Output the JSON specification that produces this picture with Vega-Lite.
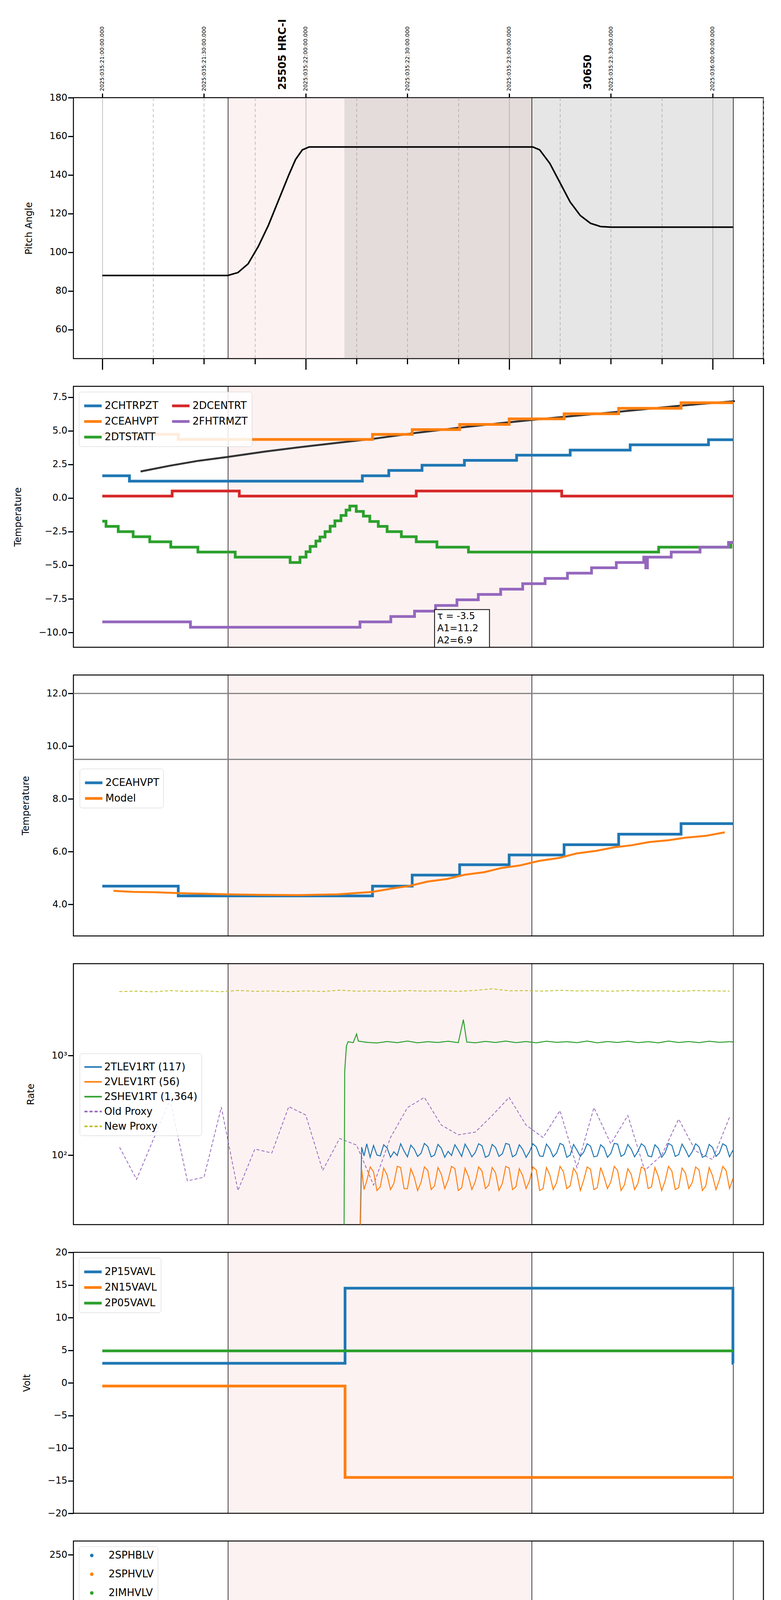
{
"$schema":"https://vega.github.io/schema/vega-lite/v6.json",
"padding":{"left":33,"top":47,"right":5,"bottom":5},
"background":"white",
"config":{"font":"DejaVu Sans","view":{"stroke":"black","strokeWidth":2.5},
"axis":{"labelFont":"DejaVu Sans","labelFontSize":24,"labelColor":"black","titleFont":"DejaVu Sans","titleFontSize":24,"titleFontWeight":"normal","titleColor":"black","tickColor":"black","tickWidth":3,"tickSize":14,"domain":false,"titlePadding":40},
"axisY":{"grid":false},
"legend":{"labelFont":"DejaVu Sans","labelFontSize":26,"labelColor":"black","labelLimit":0,"title":null,"strokeColor":"#d0d0d0","fillColor":"rgba(255,255,255,0.85)","padding":10,"cornerRadius":6,"symbolType":"stroke","symbolStrokeWidth":7,"symbolSize":2000,"rowPadding":0,"columnPadding":20,"offset":14,"orient":"top-left"}},
"bounds":"flush",
"spacing":71,
"resolve":{"scale":{"color":"independent","strokeDash":"independent"},"legend":{"color":"independent","strokeDash":"independent"}},
"datasets":{
"shade":[{"a":37.1,"b":126.7}],
"vlines":[{"t":37.1},{"t":126.7},{"t":186.1}]
},
"vconcat":[
{"width":1767,"height":668,
"resolve":{"axis":{"x":"independent"}},
"layer":[
{"data":{"name":"shade"},"mark":{"type":"rect","color":"#f08080","opacity":0.1},"encoding":{"x":{"field":"a","type":"quantitative","scale":{"domain":[-8.52,195],"nice":false,"zero":false},"axis":{"values":[0,15,30,45,60,75,90,105,120,135,150,165,180,195],"labels":false,"title":null,"grid":true,"gridColor":"#b0b0b0","gridWidth":1.5,"gridDash":{"condition":{"test":"datum.value % 60 == 0","value":[]},"value":[8,6]},"tickSize":{"condition":{"test":"datum.value % 60 == 0","value":28},"value":14}}},"x2":{"field":"b"},"y":{"datum":45,"type":"quantitative"},"y2":{"datum":180}}},
{"data":{"values":[{"a":71.4,"b":186.1}]},"mark":{"type":"rect","color":"#808080","opacity":0.2},"encoding":{"x":{"field":"a","type":"quantitative","axis":null},"x2":{"field":"b"},"y":{"datum":45,"type":"quantitative"},"y2":{"datum":180}}},
{"data":{"name":"vlines"},"mark":{"type":"rule","color":"black","strokeWidth":1.5},"encoding":{"x":{"field":"t","type":"quantitative","axis":null},"y":{"datum":45,"type":"quantitative"},"y2":{"datum":180}}},
{"data":{"values":[{"t":0}]},"mark":{"type":"point","opacity":0},"encoding":{"y":{"datum":100,"type":"quantitative"},"x":{"field":"t","type":"quantitative","axis":{"orient":"top","values":[0,30,60,90,120,150,180],"grid":false,"title":null,"tickSize":11,"labelAngle":270,"labelAlign":"left","labelBaseline":"middle","labelFontSize":14,"labelPadding":6,"labelExpr":"datum.value == 180 ? '2025:036:00:00:00.000' : '2025:035:' + (21 + floor(datum.value/60)) + ':' + (datum.value % 60 == 0 ? '00' : '30') + ':00.000'"}}}},
{"data":{"values":[{"t":53.2,"label":"25505 HRC-I"},{"t":143.3,"label":"30650"}]},"mark":{"type":"text","angle":270,"align":"left","baseline":"middle","dx":20,"fontSize":26,"fontWeight":"bold","color":"black"},"encoding":{"x":{"field":"t","type":"quantitative","axis":null},"y":{"datum":180,"type":"quantitative"},"text":{"field":"label"}}},
{"data":{"values":[{"t":0,"v":88},{"t":37,"v":88},{"t":40,"v":89.5},{"t":43,"v":94},{"t":46,"v":103},{"t":49,"v":114},{"t":52,"v":127},{"t":55,"v":140},{"t":57,"v":148},{"t":59,"v":153},{"t":61,"v":154.5},{"t":127,"v":154.5},{"t":129,"v":153},{"t":132,"v":146},{"t":135,"v":136},{"t":138,"v":126},{"t":141,"v":119},{"t":144,"v":115},{"t":147,"v":113.3},{"t":150,"v":113},{"t":186.1,"v":113}]},
"mark":{"type":"line","color":"black","strokeWidth":4},
"encoding":{"x":{"field":"t","type":"quantitative","axis":null},"y":{"field":"v","type":"quantitative","scale":{"domain":[45,180],"nice":false,"zero":false},"axis":{"values":[60,80,100,120,140,160,180],"title":"Pitch Angle"}}}}
]},
{"width":1767,"height":668,
"layer":[
{"data":{"name":"shade"},"mark":{"type":"rect","color":"#f08080","opacity":0.1},"encoding":{"x":{"field":"a","type":"quantitative","scale":{"domain":[-8.52,195],"nice":false,"zero":false},"axis":{"values":[0,15,30,45,60,75,90,105,120,135,150,165,180,195],"labels":false,"title":null,"grid":true,"gridColor":"#b0b0b0","gridWidth":1.5,"gridDash":{"condition":{"test":"datum.value % 60 == 0","value":[]},"value":[8,6]},"tickSize":{"condition":{"test":"datum.value % 60 == 0","value":28},"value":14}}},"x2":{"field":"b"},"y":{"datum":-11.1,"type":"quantitative"},"y2":{"datum":8.3}}},
{"data":{"name":"vlines"},"mark":{"type":"rule","color":"black","strokeWidth":1.5},"encoding":{"x":{"field":"t","type":"quantitative","axis":null},"y":{"datum":-11.1,"type":"quantitative"},"y2":{"datum":8.3}}},
{"data":{"values":[{"t":11.3,"v":1.97},{"t":20,"v":2.4},{"t":28,"v":2.75},{"t":37,"v":3.05},{"t":48,"v":3.45},{"t":60,"v":3.83},{"t":70,"v":4.12},{"t":79.7,"v":4.39},{"t":92,"v":4.82},{"t":105.4,"v":5.23},{"t":116,"v":5.52},{"t":126.7,"v":5.8},{"t":140,"v":6.12},{"t":153,"v":6.43},{"t":170,"v":6.85},{"t":186.6,"v":7.2}]},
"mark":{"type":"line","color":"#333333","strokeWidth":5},"encoding":{"x":{"field":"t","type":"quantitative","axis":null},"y":{"field":"v","type":"quantitative"}}},
{"data":{"values":[
{"s":"2CHTRPZT","t":0,"v":1.65},{"s":"2CHTRPZT","t":8,"v":1.25},{"s":"2CHTRPZT","t":76.7,"v":1.65},{"s":"2CHTRPZT","t":84.5,"v":2.05},{"s":"2CHTRPZT","t":94.3,"v":2.43},{"s":"2CHTRPZT","t":106.8,"v":2.8},{"s":"2CHTRPZT","t":122.2,"v":3.18},{"s":"2CHTRPZT","t":138,"v":3.56},{"s":"2CHTRPZT","t":155.7,"v":3.95},{"s":"2CHTRPZT","t":178.8,"v":4.33},{"s":"2CHTRPZT","t":186.1,"v":4.33},
{"s":"2CEAHVPT","t":0,"v":4.73},{"s":"2CEAHVPT","t":22.4,"v":4.35},{"s":"2CEAHVPT","t":79.7,"v":4.73},{"s":"2CEAHVPT","t":91.4,"v":5.08},{"s":"2CEAHVPT","t":105.4,"v":5.47},{"s":"2CEAHVPT","t":120,"v":5.88},{"s":"2CEAHVPT","t":136.2,"v":6.26},{"s":"2CEAHVPT","t":152.3,"v":6.67},{"s":"2CEAHVPT","t":170.7,"v":7.08},{"s":"2CEAHVPT","t":186.1,"v":7.08},
{"s":"2DCENTRT","t":0,"v":0.14},{"s":"2DCENTRT","t":20.6,"v":0.52},{"s":"2DCENTRT","t":40.4,"v":0.14},{"s":"2DCENTRT","t":92.6,"v":0.52},{"s":"2DCENTRT","t":135.5,"v":0.14},{"s":"2DCENTRT","t":186.1,"v":0.14},
{"s":"2DTSTATT","t":0,"v":-1.73},{"s":"2DTSTATT","t":1.1,"v":-2.11},{"s":"2DTSTATT","t":4.7,"v":-2.5},{"s":"2DTSTATT","t":9.1,"v":-2.88},{"s":"2DTSTATT","t":14,"v":-3.26},{"s":"2DTSTATT","t":20.2,"v":-3.66},{"s":"2DTSTATT","t":28.2,"v":-4.02},{"s":"2DTSTATT","t":39.2,"v":-4.4},{"s":"2DTSTATT","t":55.4,"v":-4.8},{"s":"2DTSTATT","t":58.3,"v":-4.4},{"s":"2DTSTATT","t":60.1,"v":-4.0},{"s":"2DTSTATT","t":61.3,"v":-3.6},{"s":"2DTSTATT","t":63,"v":-3.2},{"s":"2DTSTATT","t":64.2,"v":-2.9},{"s":"2DTSTATT","t":65.7,"v":-2.5},{"s":"2DTSTATT","t":67.2,"v":-2.1},{"s":"2DTSTATT","t":68.6,"v":-1.7},{"s":"2DTSTATT","t":70.4,"v":-1.3},{"s":"2DTSTATT","t":71.9,"v":-0.9},{"s":"2DTSTATT","t":73,"v":-0.6},{"s":"2DTSTATT","t":74.9,"v":-1.0},{"s":"2DTSTATT","t":77,"v":-1.35},{"s":"2DTSTATT","t":78.9,"v":-1.75},{"s":"2DTSTATT","t":81.4,"v":-2.11},{"s":"2DTSTATT","t":84,"v":-2.5},{"s":"2DTSTATT","t":88.2,"v":-2.88},{"s":"2DTSTATT","t":92.6,"v":-3.26},{"s":"2DTSTATT","t":98.7,"v":-3.66},{"s":"2DTSTATT","t":108,"v":-4.02},{"s":"2DTSTATT","t":164.1,"v":-3.66},{"s":"2DTSTATT","t":185.4,"v":-3.3},{"s":"2DTSTATT","t":186.1,"v":-3.3},
{"s":"2FHTRMZT","t":0,"v":-9.21},{"s":"2FHTRMZT","t":26,"v":-9.61},{"s":"2FHTRMZT","t":76,"v":-9.21},{"s":"2FHTRMZT","t":85.1,"v":-8.81},{"s":"2FHTRMZT","t":92.1,"v":-8.41},{"s":"2FHTRMZT","t":98.3,"v":-7.99},{"s":"2FHTRMZT","t":104.6,"v":-7.57},{"s":"2FHTRMZT","t":110.9,"v":-7.17},{"s":"2FHTRMZT","t":117.5,"v":-6.78},{"s":"2FHTRMZT","t":124,"v":-6.37},{"s":"2FHTRMZT","t":130.6,"v":-5.98},{"s":"2FHTRMZT","t":137.2,"v":-5.59},{"s":"2FHTRMZT","t":144.3,"v":-5.19},{"s":"2FHTRMZT","t":151.6,"v":-4.8},{"s":"2FHTRMZT","t":159.7,"v":-4.4},{"s":"2FHTRMZT","t":160.3,"v":-5.2},{"s":"2FHTRMZT","t":160.8,"v":-4.4},{"s":"2FHTRMZT","t":167.8,"v":-4.02},{"s":"2FHTRMZT","t":176.3,"v":-3.66},{"s":"2FHTRMZT","t":184.7,"v":-3.3},{"s":"2FHTRMZT","t":186.1,"v":-3.3}
]},
"mark":{"type":"line","interpolate":"step-after","strokeWidth":7},
"encoding":{"x":{"field":"t","type":"quantitative","axis":null},"y":{"field":"v","type":"quantitative","scale":{"domain":[-11.1,8.3],"nice":false,"zero":false},"axis":{"values":[-10,-7.5,-5,-2.5,0,2.5,5,7.5],"format":".1f","title":"Temperature"}},
"color":{"field":"s","type":"nominal","scale":{"domain":["2CHTRPZT","2CEAHVPT","2DTSTATT","2DCENTRT","2FHTRMZT"],"range":["#1f77b4","#ff7f0e","#2ca02c","#d62728","#9467bd"]},"legend":{"columns":2}}}},
{"data":{"values":[{"a":98,"b":114.2,"y1":-8.3,"y2":-11.1}]},"mark":{"type":"rect","fill":"white","stroke":"black","strokeWidth":2},"encoding":{"x":{"field":"a","type":"quantitative","axis":null},"x2":{"field":"b"},"y":{"field":"y1","type":"quantitative"},"y2":{"field":"y2"}}},
{"data":{"values":[{"t":98.8,"v":-8.45,"label":["τ = -3.5","A1=11.2","A2=6.9"]}]},"mark":{"type":"text","align":"left","baseline":"top","fontSize":24,"lineHeight":31,"color":"black"},"encoding":{"x":{"field":"t","type":"quantitative","axis":null},"y":{"field":"v","type":"quantitative"},"text":{"field":"label"}}}
]},
{"width":1767,"height":668,
"layer":[
{"data":{"name":"shade"},"mark":{"type":"rect","color":"#f08080","opacity":0.1},"encoding":{"x":{"field":"a","type":"quantitative","scale":{"domain":[-8.52,195],"nice":false,"zero":false},"axis":{"values":[0,15,30,45,60,75,90,105,120,135,150,165,180,195],"labels":false,"title":null,"grid":true,"gridColor":"#b0b0b0","gridWidth":1.5,"gridDash":{"condition":{"test":"datum.value % 60 == 0","value":[]},"value":[8,6]},"tickSize":{"condition":{"test":"datum.value % 60 == 0","value":28},"value":14}}},"x2":{"field":"b"},"y":{"datum":2.8,"type":"quantitative"},"y2":{"datum":12.7}}},
{"data":{"name":"vlines"},"mark":{"type":"rule","color":"black","strokeWidth":1.5},"encoding":{"x":{"field":"t","type":"quantitative","axis":null},"y":{"datum":2.8,"type":"quantitative"},"y2":{"datum":12.7}}},
{"data":{"values":[{"v":12},{"v":9.5}]},"mark":{"type":"rule","color":"#808080","strokeWidth":3},"encoding":{"y":{"field":"v","type":"quantitative"},"x":{"datum":-8.52,"type":"quantitative"},"x2":{"datum":195}}},
{"data":{"values":[
{"s":"2CEAHVPT","t":0,"v":4.69},{"s":"2CEAHVPT","t":22.4,"v":4.32},{"s":"2CEAHVPT","t":79.7,"v":4.69},{"s":"2CEAHVPT","t":91.4,"v":5.11},{"s":"2CEAHVPT","t":105.4,"v":5.5},{"s":"2CEAHVPT","t":120,"v":5.87},{"s":"2CEAHVPT","t":136.2,"v":6.26},{"s":"2CEAHVPT","t":152.3,"v":6.66},{"s":"2CEAHVPT","t":170.7,"v":7.06},{"s":"2CEAHVPT","t":186.1,"v":7.06}
]},
"mark":{"type":"line","interpolate":"step-after","strokeWidth":7},
"encoding":{"x":{"field":"t","type":"quantitative","axis":null},"y":{"field":"v","type":"quantitative","scale":{"domain":[2.8,12.7],"nice":false,"zero":false},"axis":{"values":[4,6,8,10,12],"title":"Temperature"}},
"color":{"field":"s","type":"nominal","scale":{"domain":["2CEAHVPT","Model"],"range":["#1f77b4","#ff7f0e"]},"legend":{"orient":"none","legendX":16,"legendY":240}}}},
{"data":{"values":[
{"s":"Model","t":3.3,"v":4.51},{"s":"Model","t":9.1,"v":4.47},{"s":"Model","t":15,"v":4.46},{"s":"Model","t":23.8,"v":4.42},{"s":"Model","t":37,"v":4.38},{"s":"Model","t":45.9,"v":4.36},{"s":"Model","t":57.6,"v":4.35},{"s":"Model","t":69.4,"v":4.38},{"s":"Model","t":79.7,"v":4.47},{"s":"Model","t":85.5,"v":4.6},{"s":"Model","t":90.7,"v":4.7},{"s":"Model","t":95.8,"v":4.86},{"s":"Model","t":101.7,"v":4.96},{"s":"Model","t":106.8,"v":5.12},{"s":"Model","t":112.7,"v":5.22},{"s":"Model","t":117.8,"v":5.38},{"s":"Model","t":123,"v":5.47},{"s":"Model","t":128.9,"v":5.65},{"s":"Model","t":134.8,"v":5.76},{"s":"Model","t":139.9,"v":5.93},{"s":"Model","t":145.8,"v":6.03},{"s":"Model","t":150.9,"v":6.16},{"s":"Model","t":156.1,"v":6.24},{"s":"Model","t":161.2,"v":6.36},{"s":"Model","t":167,"v":6.43},{"s":"Model","t":172.2,"v":6.53},{"s":"Model","t":178.1,"v":6.6},{"s":"Model","t":183.6,"v":6.73}
]},
"mark":{"type":"line","strokeWidth":5},
"encoding":{"x":{"field":"t","type":"quantitative","axis":null},"y":{"field":"v","type":"quantitative"},"color":{"field":"s","type":"nominal"}}}
]},
{"width":1767,"height":668,
"layer":[
{"data":{"name":"shade"},"mark":{"type":"rect","color":"#f08080","opacity":0.1},"encoding":{"x":{"field":"a","type":"quantitative","scale":{"domain":[-8.52,195],"nice":false,"zero":false},"axis":{"values":[0,15,30,45,60,75,90,105,120,135,150,165,180,195],"labels":false,"title":null,"grid":true,"gridColor":"#b0b0b0","gridWidth":1.5,"gridDash":{"condition":{"test":"datum.value % 60 == 0","value":[]},"value":[8,6]},"tickSize":{"condition":{"test":"datum.value % 60 == 0","value":28},"value":14}}},"x2":{"field":"b"},"y":{"datum":20,"type":"quantitative"},"y2":{"datum":8400}}},
{"data":{"name":"vlines"},"mark":{"type":"rule","color":"black","strokeWidth":1.5},"encoding":{"x":{"field":"t","type":"quantitative","axis":null},"y":{"datum":20,"type":"quantitative"},"y2":{"datum":8400}}},
{"data":{"values":[
{"s":"Old Proxy","t":5.1,"v":120},{"s":"Old Proxy","t":10.1,"v":57},{"s":"Old Proxy","t":20,"v":361},{"s":"Old Proxy","t":25.1,"v":55},{"s":"Old Proxy","t":30,"v":60},{"s":"Old Proxy","t":35.1,"v":303},{"s":"Old Proxy","t":40,"v":44},{"s":"Old Proxy","t":45,"v":115},{"s":"Old Proxy","t":50,"v":105},{"s":"Old Proxy","t":55,"v":307},{"s":"Old Proxy","t":60,"v":253},{"s":"Old Proxy","t":65,"v":70},{"s":"Old Proxy","t":70,"v":147},{"s":"Old Proxy","t":75,"v":126},{"s":"Old Proxy","t":80,"v":50},{"s":"Old Proxy","t":85,"v":150},{"s":"Old Proxy","t":90,"v":300},{"s":"Old Proxy","t":95,"v":380},{"s":"Old Proxy","t":100,"v":200},{"s":"Old Proxy","t":105,"v":160},{"s":"Old Proxy","t":110,"v":170},{"s":"Old Proxy","t":115,"v":250},{"s":"Old Proxy","t":120,"v":380},{"s":"Old Proxy","t":125,"v":200},{"s":"Old Proxy","t":130,"v":150},{"s":"Old Proxy","t":135,"v":280},{"s":"Old Proxy","t":140,"v":75},{"s":"Old Proxy","t":145,"v":300},{"s":"Old Proxy","t":150,"v":130},{"s":"Old Proxy","t":155,"v":250},{"s":"Old Proxy","t":160,"v":70},{"s":"Old Proxy","t":165,"v":100},{"s":"Old Proxy","t":170,"v":230},{"s":"Old Proxy","t":175,"v":110},{"s":"Old Proxy","t":180,"v":90},{"s":"Old Proxy","t":185,"v":240},
{"s":"New Proxy","t":5,"v":4400},{"s":"New Proxy","t":10,"v":4450},{"s":"New Proxy","t":15,"v":4380},{"s":"New Proxy","t":20,"v":4500},{"s":"New Proxy","t":25,"v":4420},{"s":"New Proxy","t":30,"v":4470},{"s":"New Proxy","t":35,"v":4390},{"s":"New Proxy","t":40,"v":4520},{"s":"New Proxy","t":45,"v":4430},{"s":"New Proxy","t":50,"v":4460},{"s":"New Proxy","t":55,"v":4400},{"s":"New Proxy","t":60,"v":4480},{"s":"New Proxy","t":65,"v":4410},{"s":"New Proxy","t":70,"v":4550},{"s":"New Proxy","t":75,"v":4440},{"s":"New Proxy","t":80,"v":4470},{"s":"New Proxy","t":85,"v":4420},{"s":"New Proxy","t":90,"v":4500},{"s":"New Proxy","t":95,"v":4450},{"s":"New Proxy","t":100,"v":4480},{"s":"New Proxy","t":105,"v":4430},{"s":"New Proxy","t":110,"v":4520},{"s":"New Proxy","t":115,"v":4700},{"s":"New Proxy","t":120,"v":4480},{"s":"New Proxy","t":125,"v":4500},{"s":"New Proxy","t":130,"v":4450},{"s":"New Proxy","t":135,"v":4530},{"s":"New Proxy","t":140,"v":4470},{"s":"New Proxy","t":145,"v":4490},{"s":"New Proxy","t":150,"v":4440},{"s":"New Proxy","t":155,"v":4510},{"s":"New Proxy","t":160,"v":4460},{"s":"New Proxy","t":165,"v":4480},{"s":"New Proxy","t":170,"v":4430},{"s":"New Proxy","t":175,"v":4500},{"s":"New Proxy","t":180,"v":4470},{"s":"New Proxy","t":185,"v":4450}
]},
"mark":{"type":"line","strokeWidth":2},
"encoding":{"x":{"field":"t","type":"quantitative","axis":null},"y":{"field":"v","type":"quantitative"},"color":{"field":"s","type":"nominal"},"strokeDash":{"field":"s","type":"nominal"}}},
{"data":{"values":[
{"s":"2SHEV1RT (1,364)","t":71.3,"v":15},{"s":"2SHEV1RT (1,364)","t":71.5,"v":700},{"s":"2SHEV1RT (1,364)","t":72,"v":1250},{"s":"2SHEV1RT (1,364)","t":72.5,"v":1380},{"s":"2SHEV1RT (1,364)","t":74,"v":1350},{"s":"2SHEV1RT (1,364)","t":75,"v":1650},{"s":"2SHEV1RT (1,364)","t":75.5,"v":1400},{"s":"2SHEV1RT (1,364)","t":78,"v":1360},{"s":"2SHEV1RT (1,364)","t":81,"v":1340},{"s":"2SHEV1RT (1,364)","t":84,"v":1385},{"s":"2SHEV1RT (1,364)","t":87,"v":1350},{"s":"2SHEV1RT (1,364)","t":90,"v":1400},{"s":"2SHEV1RT (1,364)","t":93,"v":1345},{"s":"2SHEV1RT (1,364)","t":96,"v":1380},{"s":"2SHEV1RT (1,364)","t":99,"v":1355},{"s":"2SHEV1RT (1,364)","t":102,"v":1395},{"s":"2SHEV1RT (1,364)","t":105,"v":1350},{"s":"2SHEV1RT (1,364)","t":106.5,"v":2300},{"s":"2SHEV1RT (1,364)","t":107.5,"v":1370},{"s":"2SHEV1RT (1,364)","t":110,"v":1345},{"s":"2SHEV1RT (1,364)","t":113,"v":1390},{"s":"2SHEV1RT (1,364)","t":116,"v":1355},{"s":"2SHEV1RT (1,364)","t":119,"v":1400},{"s":"2SHEV1RT (1,364)","t":122,"v":1350},{"s":"2SHEV1RT (1,364)","t":125,"v":1385},{"s":"2SHEV1RT (1,364)","t":128,"v":1345},{"s":"2SHEV1RT (1,364)","t":131,"v":1395},{"s":"2SHEV1RT (1,364)","t":134,"v":1360},{"s":"2SHEV1RT (1,364)","t":137,"v":1380},{"s":"2SHEV1RT (1,364)","t":140,"v":1350},{"s":"2SHEV1RT (1,364)","t":143,"v":1400},{"s":"2SHEV1RT (1,364)","t":146,"v":1345},{"s":"2SHEV1RT (1,364)","t":149,"v":1385},{"s":"2SHEV1RT (1,364)","t":152,"v":1355},{"s":"2SHEV1RT (1,364)","t":155,"v":1395},{"s":"2SHEV1RT (1,364)","t":158,"v":1350},{"s":"2SHEV1RT (1,364)","t":161,"v":1380},{"s":"2SHEV1RT (1,364)","t":164,"v":1345},{"s":"2SHEV1RT (1,364)","t":167,"v":1400},{"s":"2SHEV1RT (1,364)","t":170,"v":1355},{"s":"2SHEV1RT (1,364)","t":173,"v":1385},{"s":"2SHEV1RT (1,364)","t":176,"v":1350},{"s":"2SHEV1RT (1,364)","t":179,"v":1395},{"s":"2SHEV1RT (1,364)","t":182,"v":1360},{"s":"2SHEV1RT (1,364)","t":185,"v":1380},{"s":"2SHEV1RT (1,364)","t":186,"v":1370},
{"s":"2TLEV1RT (117)","t":76,"v":15},{"s":"2TLEV1RT (117)","t":76.5,"v":120},{"s":"2TLEV1RT (117)","t":77.2,"v":98},{"s":"2TLEV1RT (117)","t":78,"v":130},{"s":"2TLEV1RT (117)","t":79,"v":95},{"s":"2TLEV1RT (117)","t":80,"v":125},{"s":"2TLEV1RT (117)","t":81,"v":100},{"s":"2TLEV1RT (117)","t":82,"v":98},{"s":"2TLEV1RT (117)","t":83,"v":127},{"s":"2TLEV1RT (117)","t":84,"v":118},{"s":"2TLEV1RT (117)","t":85,"v":95},{"s":"2TLEV1RT (117)","t":86,"v":108},{"s":"2TLEV1RT (117)","t":87,"v":99},{"s":"2TLEV1RT (117)","t":88,"v":130},{"s":"2TLEV1RT (117)","t":89,"v":110},{"s":"2TLEV1RT (117)","t":90,"v":96},{"s":"2TLEV1RT (117)","t":91,"v":126},{"s":"2TLEV1RT (117)","t":92,"v":115},{"s":"2TLEV1RT (117)","t":93,"v":97},{"s":"2TLEV1RT (117)","t":94,"v":104},{"s":"2TLEV1RT (117)","t":95,"v":131},{"s":"2TLEV1RT (117)","t":96,"v":122},{"s":"2TLEV1RT (117)","t":97,"v":96},{"s":"2TLEV1RT (117)","t":98,"v":100},{"s":"2TLEV1RT (117)","t":99,"v":128},{"s":"2TLEV1RT (117)","t":100,"v":117},{"s":"2TLEV1RT (117)","t":101,"v":95},{"s":"2TLEV1RT (117)","t":102,"v":109},{"s":"2TLEV1RT (117)","t":103,"v":99},{"s":"2TLEV1RT (117)","t":104,"v":127},{"s":"2TLEV1RT (117)","t":105,"v":112},{"s":"2TLEV1RT (117)","t":106,"v":97},{"s":"2TLEV1RT (117)","t":107,"v":129},{"s":"2TLEV1RT (117)","t":108,"v":113},{"s":"2TLEV1RT (117)","t":109,"v":96},{"s":"2TLEV1RT (117)","t":110,"v":106},{"s":"2TLEV1RT (117)","t":111,"v":130},{"s":"2TLEV1RT (117)","t":112,"v":124},{"s":"2TLEV1RT (117)","t":113,"v":95},{"s":"2TLEV1RT (117)","t":114,"v":99},{"s":"2TLEV1RT (117)","t":115,"v":128},{"s":"2TLEV1RT (117)","t":116,"v":119},{"s":"2TLEV1RT (117)","t":117,"v":97},{"s":"2TLEV1RT (117)","t":118,"v":103},{"s":"2TLEV1RT (117)","t":119,"v":131},{"s":"2TLEV1RT (117)","t":120,"v":128},{"s":"2TLEV1RT (117)","t":121,"v":96},{"s":"2TLEV1RT (117)","t":122,"v":101},{"s":"2TLEV1RT (117)","t":123,"v":127},{"s":"2TLEV1RT (117)","t":124,"v":114},{"s":"2TLEV1RT (117)","t":125,"v":95},{"s":"2TLEV1RT (117)","t":126,"v":108},{"s":"2TLEV1RT (117)","t":127,"v":130},{"s":"2TLEV1RT (117)","t":128,"v":121},{"s":"2TLEV1RT (117)","t":129,"v":98},{"s":"2TLEV1RT (117)","t":130,"v":97},{"s":"2TLEV1RT (117)","t":131,"v":129},{"s":"2TLEV1RT (117)","t":132,"v":116},{"s":"2TLEV1RT (117)","t":133,"v":96},{"s":"2TLEV1RT (117)","t":134,"v":105},{"s":"2TLEV1RT (117)","t":135,"v":131},{"s":"2TLEV1RT (117)","t":136,"v":126},{"s":"2TLEV1RT (117)","t":137,"v":95},{"s":"2TLEV1RT (117)","t":138,"v":100},{"s":"2TLEV1RT (117)","t":139,"v":128},{"s":"2TLEV1RT (117)","t":140,"v":112},{"s":"2TLEV1RT (117)","t":141,"v":97},{"s":"2TLEV1RT (117)","t":142,"v":107},{"s":"2TLEV1RT (117)","t":143,"v":130},{"s":"2TLEV1RT (117)","t":144,"v":123},{"s":"2TLEV1RT (117)","t":145,"v":96},{"s":"2TLEV1RT (117)","t":146,"v":98},{"s":"2TLEV1RT (117)","t":147,"v":127},{"s":"2TLEV1RT (117)","t":148,"v":118},{"s":"2TLEV1RT (117)","t":149,"v":95},{"s":"2TLEV1RT (117)","t":150,"v":104},{"s":"2TLEV1RT (117)","t":151,"v":131},{"s":"2TLEV1RT (117)","t":152,"v":129},{"s":"2TLEV1RT (117)","t":153,"v":97},{"s":"2TLEV1RT (117)","t":154,"v":102},{"s":"2TLEV1RT (117)","t":155,"v":128},{"s":"2TLEV1RT (117)","t":156,"v":115},{"s":"2TLEV1RT (117)","t":157,"v":96},{"s":"2TLEV1RT (117)","t":158,"v":109},{"s":"2TLEV1RT (117)","t":159,"v":130},{"s":"2TLEV1RT (117)","t":160,"v":122},{"s":"2TLEV1RT (117)","t":161,"v":98},{"s":"2TLEV1RT (117)","t":162,"v":96},{"s":"2TLEV1RT (117)","t":163,"v":127},{"s":"2TLEV1RT (117)","t":164,"v":117},{"s":"2TLEV1RT (117)","t":165,"v":95},{"s":"2TLEV1RT (117)","t":166,"v":106},{"s":"2TLEV1RT (117)","t":167,"v":131},{"s":"2TLEV1RT (117)","t":168,"v":125},{"s":"2TLEV1RT (117)","t":169,"v":97},{"s":"2TLEV1RT (117)","t":170,"v":101},{"s":"2TLEV1RT (117)","t":171,"v":129},{"s":"2TLEV1RT (117)","t":172,"v":113},{"s":"2TLEV1RT (117)","t":173,"v":96},{"s":"2TLEV1RT (117)","t":174,"v":108},{"s":"2TLEV1RT (117)","t":175,"v":130},{"s":"2TLEV1RT (117)","t":176,"v":121},{"s":"2TLEV1RT (117)","t":177,"v":95},{"s":"2TLEV1RT (117)","t":178,"v":99},{"s":"2TLEV1RT (117)","t":179,"v":128},{"s":"2TLEV1RT (117)","t":180,"v":119},{"s":"2TLEV1RT (117)","t":181,"v":97},{"s":"2TLEV1RT (117)","t":182,"v":105},{"s":"2TLEV1RT (117)","t":183,"v":130},{"s":"2TLEV1RT (117)","t":184,"v":124},{"s":"2TLEV1RT (117)","t":185,"v":96},{"s":"2TLEV1RT (117)","t":186,"v":112},
{"s":"2VLEV1RT (56)","t":76,"v":12},{"s":"2VLEV1RT (56)","t":76.5,"v":72},{"s":"2VLEV1RT (56)","t":77.2,"v":45},{"s":"2VLEV1RT (56)","t":78,"v":55},{"s":"2VLEV1RT (56)","t":79,"v":76},{"s":"2VLEV1RT (56)","t":80,"v":68},{"s":"2VLEV1RT (56)","t":81,"v":44},{"s":"2VLEV1RT (56)","t":82,"v":48},{"s":"2VLEV1RT (56)","t":83,"v":74},{"s":"2VLEV1RT (56)","t":84,"v":63},{"s":"2VLEV1RT (56)","t":85,"v":45},{"s":"2VLEV1RT (56)","t":86,"v":52},{"s":"2VLEV1RT (56)","t":87,"v":77},{"s":"2VLEV1RT (56)","t":88,"v":75},{"s":"2VLEV1RT (56)","t":89,"v":46},{"s":"2VLEV1RT (56)","t":90,"v":46},{"s":"2VLEV1RT (56)","t":91,"v":73},{"s":"2VLEV1RT (56)","t":92,"v":60},{"s":"2VLEV1RT (56)","t":93,"v":44},{"s":"2VLEV1RT (56)","t":94,"v":53},{"s":"2VLEV1RT (56)","t":95,"v":76},{"s":"2VLEV1RT (56)","t":96,"v":70},{"s":"2VLEV1RT (56)","t":97,"v":45},{"s":"2VLEV1RT (56)","t":98,"v":49},{"s":"2VLEV1RT (56)","t":99,"v":75},{"s":"2VLEV1RT (56)","t":100,"v":64},{"s":"2VLEV1RT (56)","t":101,"v":46},{"s":"2VLEV1RT (56)","t":102,"v":56},{"s":"2VLEV1RT (56)","t":103,"v":77},{"s":"2VLEV1RT (56)","t":104,"v":73},{"s":"2VLEV1RT (56)","t":105,"v":44},{"s":"2VLEV1RT (56)","t":106,"v":47},{"s":"2VLEV1RT (56)","t":107,"v":74},{"s":"2VLEV1RT (56)","t":108,"v":61},{"s":"2VLEV1RT (56)","t":109,"v":45},{"s":"2VLEV1RT (56)","t":110,"v":54},{"s":"2VLEV1RT (56)","t":111,"v":76},{"s":"2VLEV1RT (56)","t":112,"v":69},{"s":"2VLEV1RT (56)","t":113,"v":46},{"s":"2VLEV1RT (56)","t":114,"v":50},{"s":"2VLEV1RT (56)","t":115,"v":75},{"s":"2VLEV1RT (56)","t":116,"v":66},{"s":"2VLEV1RT (56)","t":117,"v":44},{"s":"2VLEV1RT (56)","t":118,"v":52},{"s":"2VLEV1RT (56)","t":119,"v":77},{"s":"2VLEV1RT (56)","t":120,"v":74},{"s":"2VLEV1RT (56)","t":121,"v":45},{"s":"2VLEV1RT (56)","t":122,"v":48},{"s":"2VLEV1RT (56)","t":123,"v":73},{"s":"2VLEV1RT (56)","t":124,"v":62},{"s":"2VLEV1RT (56)","t":125,"v":46},{"s":"2VLEV1RT (56)","t":126,"v":55},{"s":"2VLEV1RT (56)","t":127,"v":76},{"s":"2VLEV1RT (56)","t":128,"v":71},{"s":"2VLEV1RT (56)","t":129,"v":44},{"s":"2VLEV1RT (56)","t":130,"v":46},{"s":"2VLEV1RT (56)","t":131,"v":75},{"s":"2VLEV1RT (56)","t":132,"v":63},{"s":"2VLEV1RT (56)","t":133,"v":45},{"s":"2VLEV1RT (56)","t":134,"v":53},{"s":"2VLEV1RT (56)","t":135,"v":77},{"s":"2VLEV1RT (56)","t":136,"v":68},{"s":"2VLEV1RT (56)","t":137,"v":46},{"s":"2VLEV1RT (56)","t":138,"v":49},{"s":"2VLEV1RT (56)","t":139,"v":74},{"s":"2VLEV1RT (56)","t":140,"v":65},{"s":"2VLEV1RT (56)","t":141,"v":44},{"s":"2VLEV1RT (56)","t":142,"v":56},{"s":"2VLEV1RT (56)","t":143,"v":76},{"s":"2VLEV1RT (56)","t":144,"v":72},{"s":"2VLEV1RT (56)","t":145,"v":45},{"s":"2VLEV1RT (56)","t":146,"v":47},{"s":"2VLEV1RT (56)","t":147,"v":75},{"s":"2VLEV1RT (56)","t":148,"v":60},{"s":"2VLEV1RT (56)","t":149,"v":46},{"s":"2VLEV1RT (56)","t":150,"v":54},{"s":"2VLEV1RT (56)","t":151,"v":77},{"s":"2VLEV1RT (56)","t":152,"v":70},{"s":"2VLEV1RT (56)","t":153,"v":44},{"s":"2VLEV1RT (56)","t":154,"v":50},{"s":"2VLEV1RT (56)","t":155,"v":73},{"s":"2VLEV1RT (56)","t":156,"v":64},{"s":"2VLEV1RT (56)","t":157,"v":45},{"s":"2VLEV1RT (56)","t":158,"v":52},{"s":"2VLEV1RT (56)","t":159,"v":76},{"s":"2VLEV1RT (56)","t":160,"v":73},{"s":"2VLEV1RT (56)","t":161,"v":46},{"s":"2VLEV1RT (56)","t":162,"v":48},{"s":"2VLEV1RT (56)","t":163,"v":75},{"s":"2VLEV1RT (56)","t":164,"v":61},{"s":"2VLEV1RT (56)","t":165,"v":44},{"s":"2VLEV1RT (56)","t":166,"v":55},{"s":"2VLEV1RT (56)","t":167,"v":77},{"s":"2VLEV1RT (56)","t":168,"v":69},{"s":"2VLEV1RT (56)","t":169,"v":45},{"s":"2VLEV1RT (56)","t":170,"v":47},{"s":"2VLEV1RT (56)","t":171,"v":74},{"s":"2VLEV1RT (56)","t":172,"v":66},{"s":"2VLEV1RT (56)","t":173,"v":46},{"s":"2VLEV1RT (56)","t":174,"v":53},{"s":"2VLEV1RT (56)","t":175,"v":76},{"s":"2VLEV1RT (56)","t":176,"v":71},{"s":"2VLEV1RT (56)","t":177,"v":44},{"s":"2VLEV1RT (56)","t":178,"v":49},{"s":"2VLEV1RT (56)","t":179,"v":75},{"s":"2VLEV1RT (56)","t":180,"v":62},{"s":"2VLEV1RT (56)","t":181,"v":45},{"s":"2VLEV1RT (56)","t":182,"v":56},{"s":"2VLEV1RT (56)","t":183,"v":77},{"s":"2VLEV1RT (56)","t":184,"v":70},{"s":"2VLEV1RT (56)","t":185,"v":46},{"s":"2VLEV1RT (56)","t":186,"v":58}
]},
"mark":{"type":"line","strokeWidth":2.5,"clip":true},
"encoding":{"x":{"field":"t","type":"quantitative","axis":null},"y":{"field":"v","type":"quantitative","scale":{"type":"log","domain":[20,8400],"nice":false},"axis":{"values":[100,1000],"labelExpr":"datum.value == 100 ? '10²' : '10³'","title":"Rate"}},
"color":{"field":"s","type":"nominal","scale":{"domain":["2TLEV1RT (117)","2VLEV1RT (56)","2SHEV1RT (1,364)","Old Proxy","New Proxy"],"range":["#1f77b4","#ff7f0e","#2ca02c","#9467bd","#bcbd22"]},"legend":{"orient":"none","legendX":16,"legendY":230,"symbolStrokeWidth":4}},
"strokeDash":{"field":"s","type":"nominal","scale":{"domain":["2TLEV1RT (117)","2VLEV1RT (56)","2SHEV1RT (1,364)","Old Proxy","New Proxy"],"range":[[1,0],[1,0],[1,0],[8,5],[8,5]]},"legend":{"orient":"none","legendX":16,"legendY":230,"symbolStrokeWidth":4}}}}
]},
{"width":1767,"height":668,
"layer":[
{"data":{"name":"shade"},"mark":{"type":"rect","color":"#f08080","opacity":0.1},"encoding":{"x":{"field":"a","type":"quantitative","scale":{"domain":[-8.52,195],"nice":false,"zero":false},"axis":{"values":[0,15,30,45,60,75,90,105,120,135,150,165,180,195],"labels":false,"title":null,"grid":true,"gridColor":"#b0b0b0","gridWidth":1.5,"gridDash":{"condition":{"test":"datum.value % 60 == 0","value":[]},"value":[8,6]},"tickSize":{"condition":{"test":"datum.value % 60 == 0","value":28},"value":14}}},"x2":{"field":"b"},"y":{"datum":-20,"type":"quantitative"},"y2":{"datum":20}}},
{"data":{"name":"vlines"},"mark":{"type":"rule","color":"black","strokeWidth":1.5},"encoding":{"x":{"field":"t","type":"quantitative","axis":null},"y":{"datum":-20,"type":"quantitative"},"y2":{"datum":20}}},
{"data":{"values":[
{"s":"2P15VAVL","t":0,"v":3},{"s":"2P15VAVL","t":71.6,"v":14.5},{"s":"2P15VAVL","t":186,"v":3},{"s":"2P15VAVL","t":186.1,"v":3},
{"s":"2N15VAVL","t":0,"v":-0.5},{"s":"2N15VAVL","t":71.6,"v":-14.5},{"s":"2N15VAVL","t":186.1,"v":-14.5},
{"s":"2P05VAVL","t":0,"v":4.9},{"s":"2P05VAVL","t":186.1,"v":4.9}
]},
"mark":{"type":"line","interpolate":"step-after","strokeWidth":7},
"encoding":{"x":{"field":"t","type":"quantitative","axis":null},"y":{"field":"v","type":"quantitative","scale":{"domain":[-20,20],"nice":false,"zero":false},"axis":{"values":[-20,-15,-10,-5,0,5,10,15,20],"title":"Volt"}},
"color":{"field":"s","type":"nominal","scale":{"domain":["2P15VAVL","2N15VAVL","2P05VAVL"],"range":["#1f77b4","#ff7f0e","#2ca02c"]}}}}
]},
{"width":1767,"height":668,
"layer":[
{"data":{"name":"shade"},"mark":{"type":"rect","color":"#f08080","opacity":0.1},"encoding":{"x":{"field":"a","type":"quantitative","scale":{"domain":[-8.52,195],"nice":false,"zero":false},"axis":{"values":[0,15,30,45,60,75,90,105,120,135,150,165,180,195],"labels":false,"title":null,"grid":true,"gridColor":"#b0b0b0","gridWidth":1.5,"gridDash":{"condition":{"test":"datum.value % 60 == 0","value":[]},"value":[8,6]},"tickSize":{"condition":{"test":"datum.value % 60 == 0","value":28},"value":14}}},"x2":{"field":"b"},"y":{"datum":0,"type":"quantitative"},"y2":{"datum":264}}},
{"data":{"name":"vlines"},"mark":{"type":"rule","color":"black","strokeWidth":1.5},"encoding":{"x":{"field":"t","type":"quantitative","axis":null},"y":{"datum":0,"type":"quantitative"},"y2":{"datum":264}}},
{"data":{"values":[
{"s":"2IMHVLV","t":73.4,"v":104},{"s":"2IMHVLV","t":73.6,"v":100},{"s":"2IMHVLV","t":73.8,"v":97},{"s":"2IMHVLV","t":74,"v":95},{"s":"2IMHVLV","t":74.5,"v":91},{"s":"2IMHVLV","t":75,"v":88},{"s":"2IMHVLV","t":75.5,"v":85},{"s":"2IMHVLV","t":76,"v":83},{"s":"2IMHVLV","t":76.5,"v":82},{"s":"2IMHVLV","t":77,"v":81},
{"s":"2IMHVLV","t":78,"v":79},{"s":"2IMHVLV","t":79,"v":79},{"s":"2IMHVLV","t":80,"v":79},{"s":"2IMHVLV","t":81,"v":79},{"s":"2IMHVLV","t":82,"v":79},{"s":"2IMHVLV","t":83,"v":79},{"s":"2IMHVLV","t":84,"v":79},{"s":"2IMHVLV","t":85,"v":79},{"s":"2IMHVLV","t":86,"v":79},{"s":"2IMHVLV","t":87,"v":79},{"s":"2IMHVLV","t":88,"v":79},{"s":"2IMHVLV","t":89,"v":79},{"s":"2IMHVLV","t":90,"v":79},{"s":"2IMHVLV","t":91,"v":79},{"s":"2IMHVLV","t":92,"v":79},{"s":"2IMHVLV","t":93,"v":79},{"s":"2IMHVLV","t":94,"v":79},{"s":"2IMHVLV","t":95,"v":79},{"s":"2IMHVLV","t":96,"v":79},{"s":"2IMHVLV","t":97,"v":79},{"s":"2IMHVLV","t":98,"v":79},{"s":"2IMHVLV","t":99,"v":79},{"s":"2IMHVLV","t":100,"v":79},{"s":"2IMHVLV","t":101,"v":79},{"s":"2IMHVLV","t":102,"v":79},{"s":"2IMHVLV","t":103,"v":79},{"s":"2IMHVLV","t":104,"v":79},{"s":"2IMHVLV","t":105,"v":79},{"s":"2IMHVLV","t":106,"v":79},{"s":"2IMHVLV","t":107,"v":79},{"s":"2IMHVLV","t":108,"v":79},{"s":"2IMHVLV","t":109,"v":79},{"s":"2IMHVLV","t":110,"v":79},{"s":"2IMHVLV","t":111,"v":79},{"s":"2IMHVLV","t":112,"v":79},{"s":"2IMHVLV","t":113,"v":79},{"s":"2IMHVLV","t":114,"v":79},{"s":"2IMHVLV","t":115,"v":79},{"s":"2IMHVLV","t":116,"v":79},{"s":"2IMHVLV","t":117,"v":79},{"s":"2IMHVLV","t":118,"v":79},{"s":"2IMHVLV","t":119,"v":79},{"s":"2IMHVLV","t":120,"v":79},{"s":"2IMHVLV","t":121,"v":79},{"s":"2IMHVLV","t":122,"v":79},{"s":"2IMHVLV","t":123,"v":79},{"s":"2IMHVLV","t":124,"v":79},{"s":"2IMHVLV","t":125,"v":79},{"s":"2IMHVLV","t":126,"v":79},{"s":"2IMHVLV","t":127,"v":79},{"s":"2IMHVLV","t":128,"v":79},{"s":"2IMHVLV","t":129,"v":79},{"s":"2IMHVLV","t":130,"v":79},{"s":"2IMHVLV","t":131,"v":79},{"s":"2IMHVLV","t":132,"v":79},{"s":"2IMHVLV","t":133,"v":79},{"s":"2IMHVLV","t":134,"v":79},{"s":"2IMHVLV","t":135,"v":79},{"s":"2IMHVLV","t":136,"v":79},{"s":"2IMHVLV","t":137,"v":79},{"s":"2IMHVLV","t":138,"v":79},{"s":"2IMHVLV","t":139,"v":79},{"s":"2IMHVLV","t":140,"v":79},{"s":"2IMHVLV","t":141,"v":79},{"s":"2IMHVLV","t":142,"v":79},{"s":"2IMHVLV","t":143,"v":79},{"s":"2IMHVLV","t":144,"v":79},{"s":"2IMHVLV","t":145,"v":79},{"s":"2IMHVLV","t":146,"v":79},{"s":"2IMHVLV","t":147,"v":79},{"s":"2IMHVLV","t":148,"v":79},{"s":"2IMHVLV","t":149,"v":79},{"s":"2IMHVLV","t":150,"v":79},{"s":"2IMHVLV","t":151,"v":79},{"s":"2IMHVLV","t":152,"v":79},{"s":"2IMHVLV","t":153,"v":79},{"s":"2IMHVLV","t":154,"v":79},{"s":"2IMHVLV","t":155,"v":79},{"s":"2IMHVLV","t":156,"v":79},{"s":"2IMHVLV","t":157,"v":79},{"s":"2IMHVLV","t":158,"v":79},{"s":"2IMHVLV","t":159,"v":79},{"s":"2IMHVLV","t":160,"v":79},{"s":"2IMHVLV","t":161,"v":79},{"s":"2IMHVLV","t":162,"v":79},{"s":"2IMHVLV","t":163,"v":79},{"s":"2IMHVLV","t":164,"v":79},{"s":"2IMHVLV","t":165,"v":79},{"s":"2IMHVLV","t":166,"v":79},{"s":"2IMHVLV","t":167,"v":79},{"s":"2IMHVLV","t":168,"v":79},{"s":"2IMHVLV","t":169,"v":79},{"s":"2IMHVLV","t":170,"v":79},{"s":"2IMHVLV","t":171,"v":79},{"s":"2IMHVLV","t":172,"v":79},{"s":"2IMHVLV","t":173,"v":79},{"s":"2IMHVLV","t":174,"v":79},{"s":"2IMHVLV","t":175,"v":79},{"s":"2IMHVLV","t":176,"v":79},{"s":"2IMHVLV","t":177,"v":79},{"s":"2IMHVLV","t":178,"v":79},{"s":"2IMHVLV","t":179,"v":79},{"s":"2IMHVLV","t":180,"v":79},{"s":"2IMHVLV","t":181,"v":79},{"s":"2IMHVLV","t":182,"v":79},{"s":"2IMHVLV","t":183,"v":79},{"s":"2IMHVLV","t":184,"v":79},{"s":"2IMHVLV","t":185,"v":79},{"s":"2IMHVLV","t":186,"v":79},
{"s":"2IMHBLV","t":73,"v":127},{"s":"2IMHBLV","t":73.2,"v":121},{"s":"2IMHBLV","t":73.4,"v":113},{"s":"2IMHBLV","t":73.6,"v":107},{"s":"2IMHBLV","t":73.8,"v":102},{"s":"2IMHBLV","t":74,"v":99},{"s":"2IMHBLV","t":74.5,"v":96},{"s":"2IMHBLV","t":75,"v":93},{"s":"2IMHBLV","t":75.5,"v":90},{"s":"2IMHBLV","t":76,"v":88},{"s":"2IMHBLV","t":76.5,"v":87},{"s":"2IMHBLV","t":77,"v":86},
{"s":"2IMHBLV","t":78,"v":85},{"s":"2IMHBLV","t":79,"v":85},{"s":"2IMHBLV","t":80,"v":85},{"s":"2IMHBLV","t":81,"v":85},{"s":"2IMHBLV","t":82,"v":85},{"s":"2IMHBLV","t":83,"v":85},{"s":"2IMHBLV","t":84,"v":85},{"s":"2IMHBLV","t":85,"v":85},{"s":"2IMHBLV","t":86,"v":85},{"s":"2IMHBLV","t":87,"v":85},{"s":"2IMHBLV","t":88,"v":85},{"s":"2IMHBLV","t":89,"v":85},{"s":"2IMHBLV","t":90,"v":85},{"s":"2IMHBLV","t":91,"v":85},{"s":"2IMHBLV","t":92,"v":85},{"s":"2IMHBLV","t":93,"v":85},{"s":"2IMHBLV","t":94,"v":85},{"s":"2IMHBLV","t":95,"v":85},{"s":"2IMHBLV","t":96,"v":85},{"s":"2IMHBLV","t":97,"v":85},{"s":"2IMHBLV","t":98,"v":85},{"s":"2IMHBLV","t":99,"v":85},{"s":"2IMHBLV","t":100,"v":85},{"s":"2IMHBLV","t":101,"v":85},{"s":"2IMHBLV","t":102,"v":85},{"s":"2IMHBLV","t":103,"v":85},{"s":"2IMHBLV","t":104,"v":85},{"s":"2IMHBLV","t":105,"v":85},{"s":"2IMHBLV","t":106,"v":85},{"s":"2IMHBLV","t":107,"v":85},{"s":"2IMHBLV","t":108,"v":85},{"s":"2IMHBLV","t":109,"v":85},{"s":"2IMHBLV","t":110,"v":85},{"s":"2IMHBLV","t":111,"v":85},{"s":"2IMHBLV","t":112,"v":85},{"s":"2IMHBLV","t":113,"v":85},{"s":"2IMHBLV","t":114,"v":85},{"s":"2IMHBLV","t":115,"v":85},{"s":"2IMHBLV","t":116,"v":85},{"s":"2IMHBLV","t":117,"v":85},{"s":"2IMHBLV","t":118,"v":85},{"s":"2IMHBLV","t":119,"v":85},{"s":"2IMHBLV","t":120,"v":85},{"s":"2IMHBLV","t":121,"v":85},{"s":"2IMHBLV","t":122,"v":85},{"s":"2IMHBLV","t":123,"v":85},{"s":"2IMHBLV","t":124,"v":85},{"s":"2IMHBLV","t":125,"v":85},{"s":"2IMHBLV","t":126,"v":85},{"s":"2IMHBLV","t":127,"v":85},{"s":"2IMHBLV","t":128,"v":85},{"s":"2IMHBLV","t":129,"v":85},{"s":"2IMHBLV","t":130,"v":85},{"s":"2IMHBLV","t":131,"v":85},{"s":"2IMHBLV","t":132,"v":85},{"s":"2IMHBLV","t":133,"v":85},{"s":"2IMHBLV","t":134,"v":85},{"s":"2IMHBLV","t":135,"v":85},{"s":"2IMHBLV","t":136,"v":85},{"s":"2IMHBLV","t":137,"v":85},{"s":"2IMHBLV","t":138,"v":85},{"s":"2IMHBLV","t":139,"v":85},{"s":"2IMHBLV","t":140,"v":85},{"s":"2IMHBLV","t":141,"v":85},{"s":"2IMHBLV","t":142,"v":85},{"s":"2IMHBLV","t":143,"v":85},{"s":"2IMHBLV","t":144,"v":85},{"s":"2IMHBLV","t":145,"v":85},{"s":"2IMHBLV","t":146,"v":85},{"s":"2IMHBLV","t":147,"v":85},{"s":"2IMHBLV","t":148,"v":85},{"s":"2IMHBLV","t":149,"v":85},{"s":"2IMHBLV","t":150,"v":85},{"s":"2IMHBLV","t":151,"v":85},{"s":"2IMHBLV","t":152,"v":85},{"s":"2IMHBLV","t":153,"v":85},{"s":"2IMHBLV","t":154,"v":85},{"s":"2IMHBLV","t":155,"v":85},{"s":"2IMHBLV","t":156,"v":85},{"s":"2IMHBLV","t":157,"v":85},{"s":"2IMHBLV","t":158,"v":85},{"s":"2IMHBLV","t":159,"v":85},{"s":"2IMHBLV","t":160,"v":85},{"s":"2IMHBLV","t":161,"v":85},{"s":"2IMHBLV","t":162,"v":85},{"s":"2IMHBLV","t":163,"v":85},{"s":"2IMHBLV","t":164,"v":85},{"s":"2IMHBLV","t":165,"v":85},{"s":"2IMHBLV","t":166,"v":85},{"s":"2IMHBLV","t":167,"v":85},{"s":"2IMHBLV","t":168,"v":85},{"s":"2IMHBLV","t":169,"v":85},{"s":"2IMHBLV","t":170,"v":85},{"s":"2IMHBLV","t":171,"v":85},{"s":"2IMHBLV","t":172,"v":85},{"s":"2IMHBLV","t":173,"v":85},{"s":"2IMHBLV","t":174,"v":85},{"s":"2IMHBLV","t":175,"v":85},{"s":"2IMHBLV","t":176,"v":85},{"s":"2IMHBLV","t":177,"v":85},{"s":"2IMHBLV","t":178,"v":85},{"s":"2IMHBLV","t":179,"v":85},{"s":"2IMHBLV","t":180,"v":85},{"s":"2IMHBLV","t":181,"v":85},{"s":"2IMHBLV","t":182,"v":85},{"s":"2IMHBLV","t":183,"v":85},{"s":"2IMHBLV","t":184,"v":85},{"s":"2IMHBLV","t":185,"v":85},{"s":"2IMHBLV","t":186,"v":85}
]},
"mark":{"type":"circle","size":90,"opacity":1},
"encoding":{"x":{"field":"t","type":"quantitative","axis":null},"y":{"field":"v","type":"quantitative","scale":{"domain":[0,264],"nice":false,"zero":false},"axis":{"values":[0,50,100,150,200,250],"title":"HV Monitor"}},
"color":{"field":"s","type":"nominal","scale":{"domain":["2SPHBLV","2SPHVLV","2IMHVLV","2IMHBLV"],"range":["#1f77b4","#ff7f0e","#2ca02c","#d62728"]},"legend":{"symbolType":"circle","symbolSize":80,"symbolStrokeWidth":0,"rowPadding":22,"symbolOffset":10,"labelOffset":30}}}}
]},
{"width":1767,"height":668,
"layer":[
{"data":{"name":"shade"},"mark":{"type":"rect","color":"#f08080","opacity":0.1},"encoding":{"x":{"field":"a","type":"quantitative","scale":{"domain":[-8.52,195],"nice":false,"zero":false},"axis":{"values":[0,15,30,45,60,75,90,105,120,135,150,165,180,195],"labels":false,"title":null,"grid":true,"gridColor":"#b0b0b0","gridWidth":1.5,"gridDash":{"condition":{"test":"datum.value % 60 == 0","value":[]},"value":[8,6]},"tickSize":{"condition":{"test":"datum.value % 60 == 0","value":28},"value":14}}},"x2":{"field":"b"},"y":{"datum":-1.57,"type":"quantitative"},"y2":{"datum":16.46}}},
{"data":{"name":"vlines"},"mark":{"type":"rule","color":"black","strokeWidth":1.5},"encoding":{"x":{"field":"t","type":"quantitative","axis":null},"y":{"datum":-1.57,"type":"quantitative"},"y2":{"datum":16.46}}},
{"data":{"values":[
{"s":"2SPINATM","t":71.6,"v":6.1},{"s":"2SPINATM","t":72,"v":6.74},{"s":"2SPINATM","t":74.8,"v":6.19},{"s":"2SPINATM","t":76.7,"v":5.66},{"s":"2SPINATM","t":78.9,"v":5.14},{"s":"2SPINATM","t":81.4,"v":4.64},{"s":"2SPINATM","t":84,"v":4.12},{"s":"2SPINATM","t":87.7,"v":3.62},{"s":"2SPINATM","t":92.1,"v":3.17},{"s":"2SPINATM","t":98.4,"v":2.67},{"s":"2SPINATM","t":108.3,"v":2.2},{"s":"2SPINATM","t":139.6,"v":1.7},{"s":"2SPINATM","t":140.2,"v":2.25},{"s":"2SPINATM","t":140.8,"v":1.7},{"s":"2SPINATM","t":141.4,"v":2.25},{"s":"2SPINATM","t":142,"v":1.7},{"s":"2SPINATM","t":142.6,"v":2.25},{"s":"2SPINATM","t":143.2,"v":1.7},{"s":"2SPINATM","t":143.8,"v":2.25},{"s":"2SPINATM","t":144.4,"v":1.7},{"s":"2SPINATM","t":145,"v":2.25},{"s":"2SPINATM","t":145.6,"v":1.7},{"s":"2SPINATM","t":146.2,"v":2.25},{"s":"2SPINATM","t":146.8,"v":1.7},{"s":"2SPINATM","t":147.4,"v":2.25},{"s":"2SPINATM","t":148,"v":1.7},{"s":"2SPINATM","t":148.6,"v":2.25},{"s":"2SPINATM","t":149.2,"v":1.7},{"s":"2SPINATM","t":149.8,"v":2.25},{"s":"2SPINATM","t":150.4,"v":1.7},{"s":"2SPINATM","t":151,"v":2.25},{"s":"2SPINATM","t":151.6,"v":2.2},{"s":"2SPINATM","t":186.1,"v":2.2},
{"s":"2SPHVATM","t":71.6,"v":11.5},{"s":"2SPHVATM","t":71.8,"v":12.61},{"s":"2SPHVATM","t":112,"v":12.95},{"s":"2SPHVATM","t":130.6,"v":13.28},{"s":"2SPHVATM","t":147.5,"v":13.61},{"s":"2SPHVATM","t":162.6,"v":13.95},{"s":"2SPHVATM","t":178.8,"v":14.29},{"s":"2SPHVATM","t":186.1,"v":14.29},
{"s":"2IMINATM","t":71.6,"v":-0.52},{"s":"2IMINATM","t":75.5,"v":-0.09},{"s":"2IMINATM","t":156.3,"v":0.35},{"s":"2IMINATM","t":186.1,"v":0.35},
{"s":"2IMHVATM","t":71.5,"v":-3},{"s":"2IMHVATM","t":71.6,"v":11.97},{"s":"2IMHVATM","t":83.6,"v":12.34},{"s":"2IMHVATM","t":89.5,"v":12.64},{"s":"2IMHVATM","t":96.1,"v":12.96},{"s":"2IMHVATM","t":102.7,"v":13.28},{"s":"2IMHVATM","t":110,"v":13.61},{"s":"2IMHVATM","t":118.1,"v":13.96},{"s":"2IMHVATM","t":126.9,"v":14.29},{"s":"2IMHVATM","t":136.9,"v":14.63},{"s":"2IMHVATM","t":147.5,"v":14.97},{"s":"2IMHVATM","t":158.5,"v":15.31},{"s":"2IMHVATM","t":170.4,"v":15.65},{"s":"2IMHVATM","t":183.9,"v":16.0},{"s":"2IMHVATM","t":186.1,"v":16.0}
]},
"mark":{"type":"line","interpolate":"step-after","strokeWidth":7,"clip":true},
"encoding":{"x":{"field":"t","type":"quantitative","axis":null},"y":{"field":"v","type":"quantitative","scale":{"domain":[-1.57,16.46],"nice":false,"zero":false},"axis":{"values":[0,2.5,5,7.5,10,12.5,15],"format":".1f","title":"Detector Temp"}},
"color":{"field":"s","type":"nominal","scale":{"domain":["2SPINATM","2SPHVATM","2IMINATM","2IMHVATM"],"range":["#1f77b4","#ff7f0e","#2ca02c","#d62728"]}}}}
]},
{"width":1767,"height":668,
"layer":[
{"data":{"name":"shade"},"mark":{"type":"rect","color":"#f08080","opacity":0.1},"encoding":{"x":{"field":"a","type":"quantitative","scale":{"domain":[-8.52,195],"nice":false,"zero":false},"axis":{"values":[0,15,30,45,60,75,90,105,120,135,150,165,180,195],"labels":true,"labelExpr":"datum.value % 60 == 0 ? (16 + datum.value/60) + 'h' : '' + (datum.value % 60)","labelFontSize":{"condition":{"test":"datum.value % 60 == 0","value":26},"value":16},"labelPadding":{"condition":{"test":"datum.value % 60 == 0","value":22},"value":6},"labelBaseline":"top","title":"2025-02-04 (035)","titleFontSize":30,"titlePadding":20,"grid":true,"gridColor":"#b0b0b0","gridWidth":1.5,"gridDash":{"condition":{"test":"datum.value % 60 == 0","value":[]},"value":[8,6]},"tickSize":{"condition":{"test":"datum.value % 60 == 0","value":28},"value":14}}},"x2":{"field":"b"},"y":{"datum":-11.14,"type":"quantitative"},"y2":{"datum":-1.6}}},
{"data":{"name":"vlines"},"mark":{"type":"rule","color":"black","strokeWidth":1.5},"encoding":{"x":{"field":"t","type":"quantitative","axis":null},"y":{"datum":-11.14,"type":"quantitative"},"y2":{"datum":-1.6}}},
{"data":{"values":[
{"s":"2FHTRMZT","t":0,"v":-9.22},{"s":"2FHTRMZT","t":26,"v":-9.64},{"s":"2FHTRMZT","t":76,"v":-9.22},{"s":"2FHTRMZT","t":85.1,"v":-8.81},{"s":"2FHTRMZT","t":92.1,"v":-8.4},{"s":"2FHTRMZT","t":98.3,"v":-8.0},{"s":"2FHTRMZT","t":104.6,"v":-7.59},{"s":"2FHTRMZT","t":110.9,"v":-7.19},{"s":"2FHTRMZT","t":117.5,"v":-6.79},{"s":"2FHTRMZT","t":124,"v":-6.39},{"s":"2FHTRMZT","t":130.6,"v":-6.0},{"s":"2FHTRMZT","t":137.2,"v":-5.6},{"s":"2FHTRMZT","t":144.3,"v":-5.2},{"s":"2FHTRMZT","t":151.6,"v":-4.8},{"s":"2FHTRMZT","t":159.7,"v":-4.4},{"s":"2FHTRMZT","t":167.8,"v":-4.0},{"s":"2FHTRMZT","t":176.3,"v":-3.66},{"s":"2FHTRMZT","t":184.7,"v":-3.3},{"s":"2FHTRMZT","t":186.1,"v":-3.3},
{"s":"2FRADPYT","t":77.9,"v":-11.5},{"s":"2FRADPYT","t":78,"v":-10.9},{"s":"2FRADPYT","t":83.8,"v":-10.48},{"s":"2FRADPYT","t":89.2,"v":-10.06},{"s":"2FRADPYT","t":94.3,"v":-9.64},{"s":"2FRADPYT","t":100.2,"v":-9.22},{"s":"2FRADPYT","t":106.8,"v":-8.81},{"s":"2FRADPYT","t":112.7,"v":-8.4},{"s":"2FRADPYT","t":119.3,"v":-8.0},{"s":"2FRADPYT","t":126.2,"v":-7.59},{"s":"2FRADPYT","t":132.8,"v":-7.19},{"s":"2FRADPYT","t":141.4,"v":-6.79},{"s":"2FRADPYT","t":153.6,"v":-6.39},{"s":"2FRADPYT","t":165.9,"v":-6.0},{"s":"2FRADPYT","t":176.9,"v":-5.6},{"s":"2FRADPYT","t":186.1,"v":-5.6},
{"s":"2FEPRATM","t":71.5,"v":-11.5},{"s":"2FEPRATM","t":71.6,"v":-9.84},{"s":"2FEPRATM","t":73.4,"v":-9.4},{"s":"2FEPRATM","t":76,"v":-8.98},{"s":"2FEPRATM","t":78.5,"v":-8.56},{"s":"2FEPRATM","t":81.4,"v":-8.14},{"s":"2FEPRATM","t":85.1,"v":-7.72},{"s":"2FEPRATM","t":89.2,"v":-7.3},{"s":"2FEPRATM","t":94,"v":-6.87},{"s":"2FEPRATM","t":99,"v":-6.46},{"s":"2FEPRATM","t":104.9,"v":-6.05},{"s":"2FEPRATM","t":111,"v":-5.63},{"s":"2FEPRATM","t":117,"v":-5.2},{"s":"2FEPRATM","t":124,"v":-4.8},{"s":"2FEPRATM","t":131,"v":-4.4},{"s":"2FEPRATM","t":140,"v":-4.0},{"s":"2FEPRATM","t":150,"v":-3.6},{"s":"2FEPRATM","t":158,"v":-3.2},{"s":"2FEPRATM","t":165,"v":-2.8},{"s":"2FEPRATM","t":172,"v":-2.4},{"s":"2FEPRATM","t":181,"v":-1.95},{"s":"2FEPRATM","t":186.1,"v":-1.95},
{"s":"2FE00ATM","t":71.5,"v":-11.5},{"s":"2FE00ATM","t":71.6,"v":-10.8},{"s":"2FE00ATM","t":76.4,"v":-10.43},{"s":"2FE00ATM","t":83,"v":-10.05},{"s":"2FE00ATM","t":87.7,"v":-9.69},{"s":"2FE00ATM","t":92.6,"v":-9.3},{"s":"2FE00ATM","t":97,"v":-8.94},{"s":"2FE00ATM","t":102.1,"v":-8.58},{"s":"2FE00ATM","t":106.8,"v":-8.21},{"s":"2FE00ATM","t":111.7,"v":-7.85},{"s":"2FE00ATM","t":116.7,"v":-7.48},{"s":"2FE00ATM","t":121.5,"v":-7.13},{"s":"2FE00ATM","t":126.6,"v":-6.78},{"s":"2FE00ATM","t":127.2,"v":-5.9},{"s":"2FE00ATM","t":127.6,"v":-6.78},{"s":"2FE00ATM","t":132,"v":-6.43},{"s":"2FE00ATM","t":137.4,"v":-6.07},{"s":"2FE00ATM","t":143.3,"v":-5.72},{"s":"2FE00ATM","t":150,"v":-5.35},{"s":"2FE00ATM","t":157,"v":-5.0},{"s":"2FE00ATM","t":163,"v":-4.65},{"s":"2FE00ATM","t":170,"v":-4.3},{"s":"2FE00ATM","t":176,"v":-3.95},{"s":"2FE00ATM","t":183,"v":-3.6},{"s":"2FE00ATM","t":186.1,"v":-3.6}
]},
"mark":{"type":"line","interpolate":"step-after","strokeWidth":7,"clip":true},
"encoding":{"x":{"field":"t","type":"quantitative","axis":null},"y":{"field":"v","type":"quantitative","scale":{"domain":[-11.14,-1.6],"nice":false,"zero":false},"axis":{"values":[-10,-8,-6,-4,-2],"title":"FEA Temp"}},
"color":{"field":"s","type":"nominal","scale":{"domain":["2FHTRMZT","2FRADPYT","2FEPRATM","2FE00ATM"],"range":["#1f77b4","#ff7f0e","#2ca02c","#d62728"]}}}}
]}
]
}
